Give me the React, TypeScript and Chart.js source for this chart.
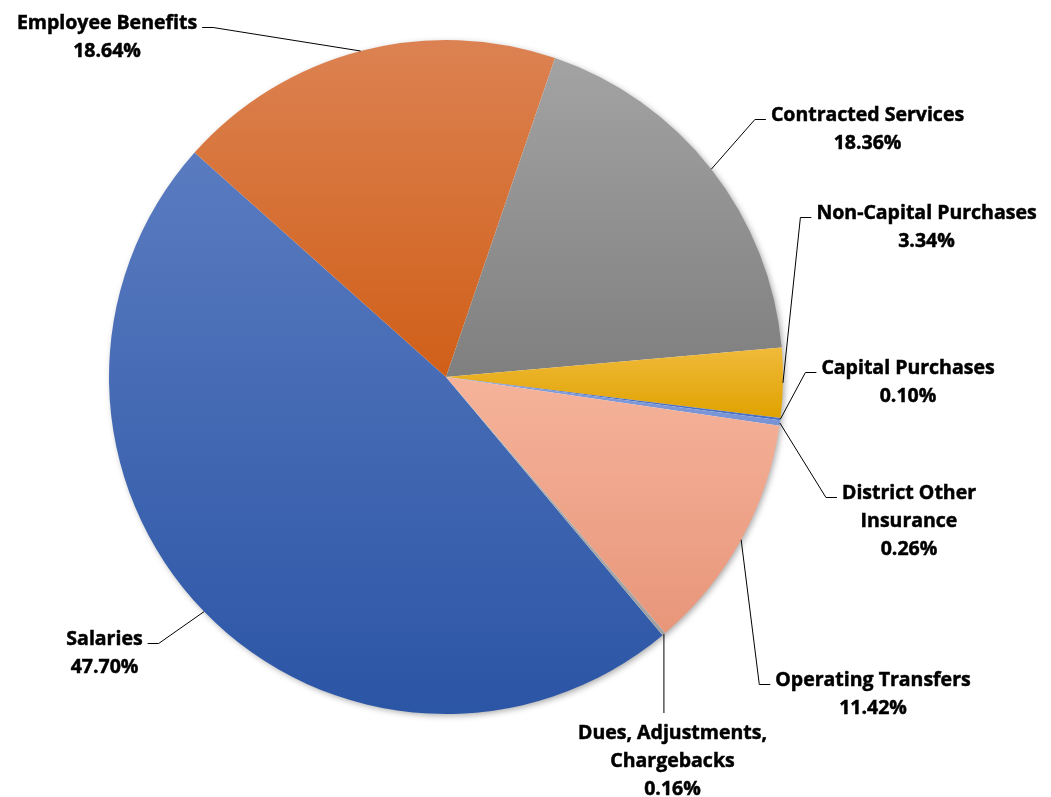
import React, { useEffect, useRef } from "react";
import { Chart, registerables } from "chart.js";

Chart.register(...registerables);

const categories = [
  "Salaries",
  "Employee Benefits",
  "Contracted Services",
  "Non-Capital Purchases",
  "Capital Purchases",
  "District Other Insurance",
  "Operating Transfers",
  "Dues, Adjustments, Chargebacks",
];
const shares = [47.7, 18.64, 18.36, 3.34, 0.1, 0.26, 11.42, 0.16];
const labelLines = [
  ["Salaries"],
  ["Employee Benefits"],
  ["Contracted Services"],
  ["Non-Capital Purchases"],
  ["Capital Purchases"],
  ["District Other", "Insurance"],
  ["Operating Transfers"],
  ["Dues, Adjustments,", "Chargebacks"],
];
const topColors = ["#5A7BC0", "#DC8252", "#A3A3A3", "#F0BA3A", "#4A6FC0", "#829CDA", "#F5B39A", "#B0B0B0"];
const bottomColors = ["#2B55A5", "#D05F18", "#7F7F7F", "#E0A200", "#4A6FC0", "#7893D4", "#E8967A", "#A0A0A0"];

// label layout, page coordinates: [centerX, firstBaselineY, side]
const labelLayout: [number, number, string][] = [
  [104.5, 645, "left"],
  [107, 29, "left"],
  [867.5, 121, "right"],
  [926.5, 219, "right"],
  [908, 374, "right"],
  [909, 499, "right"],
  [873, 686, "right"],
  [672.5, 739, "below"],
];

const ROTATION = 140;
const FONT = 'bold 19.5px "Open Sans", "Noto Sans", sans-serif';
const LINE_H = 28;

function sliceGradient(c: any) {
  const chart = c.chart;
  const area = chart.chartArea;
  const i = c.dataIndex;
  if (!area || i === undefined) return topColors[i ?? 0];
  const cx = (area.left + area.right) / 2;
  const cy = (area.top + area.bottom) / 2;
  const r = Math.min(area.right - area.left, area.bottom - area.top) / 2;
  const total = shares.reduce((a, b) => a + b, 0);
  let start = (ROTATION * Math.PI) / 180 - Math.PI / 2;
  for (let k = 0; k < i; k++) start += (shares[k] / total) * 2 * Math.PI;
  const end = start + (shares[i] / total) * 2 * Math.PI;
  let minY = cy;
  let maxY = cy;
  const consider = (a: number) => {
    const yy = cy + r * Math.sin(a);
    minY = Math.min(minY, yy);
    maxY = Math.max(maxY, yy);
  };
  consider(start);
  consider(end);
  for (let k = Math.ceil((start - Math.PI / 2) / Math.PI); ; k++) {
    const a = Math.PI / 2 + k * Math.PI;
    if (a > end) break;
    consider(a);
  }
  if (maxY - minY < 1) maxY = minY + 1;
  const g = chart.ctx.createLinearGradient(0, minY, 0, maxY);
  g.addColorStop(0, topColors[i]);
  g.addColorStop(1, bottomColors[i]);
  return g;
}

const shadowPlugin = {
  id: "pieShadow",
  beforeDatasetsDraw(chart: any) {
    const meta = chart.getDatasetMeta(0);
    const el = meta.data[0];
    if (!el) return;
    const { x, y, outerRadius } = el.getProps(["x", "y", "outerRadius"], true);
    const ctx = chart.ctx;
    ctx.save();
    ctx.beginPath();
    ctx.arc(x, y, outerRadius - 0.5, 0, Math.PI * 2);
    ctx.shadowColor = "rgba(0,0,0,0.35)";
    ctx.shadowBlur = 6;
    ctx.shadowOffsetX = 2;
    ctx.shadowOffsetY = 2;
    ctx.fillStyle = "#ffffff";
    ctx.fill();
    ctx.restore();
  },
};

const labelPlugin = {
  id: "outLabels",
  afterDatasetsDraw(chart: any) {
    const ctx = chart.ctx;
    const meta = chart.getDatasetMeta(0);
    ctx.save();
    ctx.font = FONT;
    ctx.fillStyle = "#000000";
    ctx.strokeStyle = "#000000";
    ctx.textAlign = "center";
    ctx.textBaseline = "alphabetic";
    meta.data.forEach((el: any, i: number) => {
      const { x, y, startAngle, endAngle, outerRadius } = el.getProps(
        ["x", "y", "startAngle", "endAngle", "outerRadius"],
        true
      );
      const mid = (startAngle + endAngle) / 2;
      const ex = x + outerRadius * Math.cos(mid);
      const ey = y + outerRadius * Math.sin(mid);
      const [cx, by, side] = labelLayout[i];
      const lines = [...labelLines[i], shares[i].toFixed(2) + "%"];
      const w0 = ctx.measureText(lines[0]).width;
      ctx.lineWidth = 1;
      ctx.beginPath();
      if (side === "left") {
        const hx1 = cx + w0 / 2 + 5;
        const hx2 = hx1 + 11;
        const hy = by - 1.5;
        ctx.moveTo(hx1, hy);
        ctx.lineTo(hx2, hy);
        ctx.lineTo(ex, ey);
      } else if (side === "right") {
        const hx1 = cx - w0 / 2 - 5;
        const hx2 = hx1 - 11;
        const hy = by - 1.5;
        ctx.moveTo(hx1, hy);
        ctx.lineTo(hx2, hy);
        ctx.lineTo(ex, ey);
      } else {
        ctx.moveTo(ex, ey);
        ctx.lineTo(ex, by - 26);
      }
      ctx.stroke();
      ctx.lineWidth = 0.5;
      lines.forEach((t, k) => {
        ctx.fillText(t, cx, by + k * LINE_H);
        ctx.strokeText(t, cx, by + k * LINE_H);
      });
    });
    ctx.restore();
  },
};

export default function App() {
  const ref = useRef<HTMLCanvasElement | null>(null);
  useEffect(() => {
    if (!ref.current) return;
    const chart = new Chart(ref.current, {
      type: "pie",
      data: {
        labels: categories,
        datasets: [
          {
            data: shares,
            backgroundColor: sliceGradient as any,
            borderWidth: 0,
            hoverOffset: 0,
            offset: 0,
          },
        ],
      },
      options: {
        responsive: false,
        animation: false,
        rotation: ROTATION,
        layout: { padding: { left: 109, top: 40, right: 268, bottom: 83 } },
        plugins: {
          legend: { display: false },
          tooltip: { enabled: false },
        },
        events: [],
      },
      plugins: [shadowPlugin, labelPlugin],
    });
    return () => chart.destroy();
  }, []);
  return (
    <div style={{ position: "absolute", left: 0, top: 0, width: 1051, height: 797 }}>
      <canvas ref={ref} width={1051} height={797} style={{ display: "block" }} />
    </div>
  );
}
